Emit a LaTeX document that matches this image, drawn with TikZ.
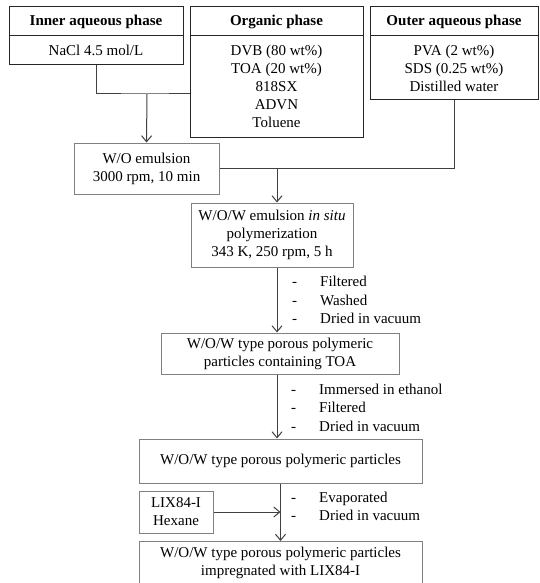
\documentclass[tikz,border=0pt]{standalone}
\usepackage{fontspec}
\setmainfont{Liberation Serif}
\usetikzlibrary{arrows.meta}
\tikzstyle{headBox}=[shape = rectangle, draw = black!85, line width = 1pt, inner sep = 0pt, minimum height = 29pt, font = \fontsize{15}{18}\selectfont\bfseries]
\tikzstyle{bodyBox}=[shape = rectangle, draw = black!85, line width = 1pt, inner sep = 0pt, align = center, font = \fontsize{15}{18}\selectfont]
\tikzstyle{stepBox}=[shape = rectangle, draw = black!50, line width = 1pt, inner sep = 0pt, align = center, font = \fontsize{15}{18}\selectfont]
\tikzstyle{noteText}=[anchor = west, inner sep = 0pt, align = left, font = \fontsize{15}{18.5}\selectfont]
\tikzstyle{link}=[draw = black!75, line width = 1pt]
\tikzstyle{linkArrow}=[link, -{Straight Barb[length = 6pt, width = 10pt]}]
\newcommand{\dashItem}[1]{\makebox[28pt][l]{-}#1}

\begin{document}
\begin{tikzpicture}[x = 1pt, y = -1pt]
\useasboundingbox (0,0) rectangle (539,583);
\clip (0,0) rectangle (539,583);
% Start top phases
\node[headBox, minimum width = 174pt] (inHead) at (96,21.5) {Inner aqueous phase};
\node[bodyBox, minimum width = 174pt, minimum height = 29pt] (inBody) at (96,50.5) {NaCl 4.5 mol/L};
\node[headBox, minimum width = 173pt] (orgHead) at (276.5,21.5) {Organic phase};
\node[bodyBox, minimum width = 173pt, minimum height = 101pt] (orgBody) at (276.5,86.5) {DVB (80 wt\%)\\TOA (20 wt\%)\\818SX\\ADVN\\Toluene};
\node[headBox, minimum width = 168pt] (outHead) at (454,21.5) {Outer aqueous phase};
\node[bodyBox, minimum width = 168pt, minimum height = 64pt] (outBody) at (454,68) {PVA (2 wt\%)\\SDS (0.25 wt\%)\\Distilled water};
% Start steps
\node[stepBox, minimum width = 145pt, minimum height = 51pt] (wo) at (146.5,168.5) {W/O emulsion\\3000 rpm, 10 min};
\node[stepBox, minimum width = 162pt, minimum height = 64pt] (wow) at (272,235) {W/O/W emulsion \textit{in situ}\\polymerization\\343 K, 250 rpm, 5 h};
\node[stepBox, minimum width = 238pt, minimum height = 41pt] (withToa) at (280,353.5) {W/O/W type porous polymeric\\particles containing TOA};
\node[stepBox, minimum width = 283pt, minimum height = 44pt] (porous) at (280.5,461) {W/O/W type porous polymeric particles};
\node[stepBox, minimum width = 74pt, minimum height = 42pt] (lix) at (176,512) {LIX84-I\\Hexane};
\node[stepBox, minimum width = 283pt, minimum height = 42pt] (final) at (280.5,562.5) {W/O/W type porous polymeric particles\\impregnated with LIX84-I};
% Start notes
\node[noteText] (noteA) at (292,300) {\dashItem{Filtered}\\\dashItem{Washed}\\\dashItem{Dried in vacuum}};
\node[noteText] (noteB) at (291,407.5) {\dashItem{Immersed in ethanol}\\\dashItem{Filtered}\\\dashItem{Dried in vacuum}};
\node[noteText] (noteC) at (291,506.5) {\dashItem{Evaporated}\\\dashItem{Dried in vacuum}};
% Start links
\coordinate (j1) at (147,94);
\coordinate (j2) at (277,168.5);
\draw[link] (inBody.south) |- (j1) -- (j1 -| orgBody.west);
\draw[linkArrow] (j1) -- (wo.north);
\draw[link] (outBody.south) |- (wo.east);
\draw[linkArrow] (j2) -- (j2 |- wow.north);
\draw[linkArrow] (wow.south -| j2) -- (withToa.north -| j2);
\draw[linkArrow] (withToa.south -| j2) -- (porous.north -| j2);
\draw[linkArrow] (porous.south) -- (final.north);
\draw[linkArrow] (lix.east) -- (lix.east -| porous.south);
\end{tikzpicture}
\end{document}
